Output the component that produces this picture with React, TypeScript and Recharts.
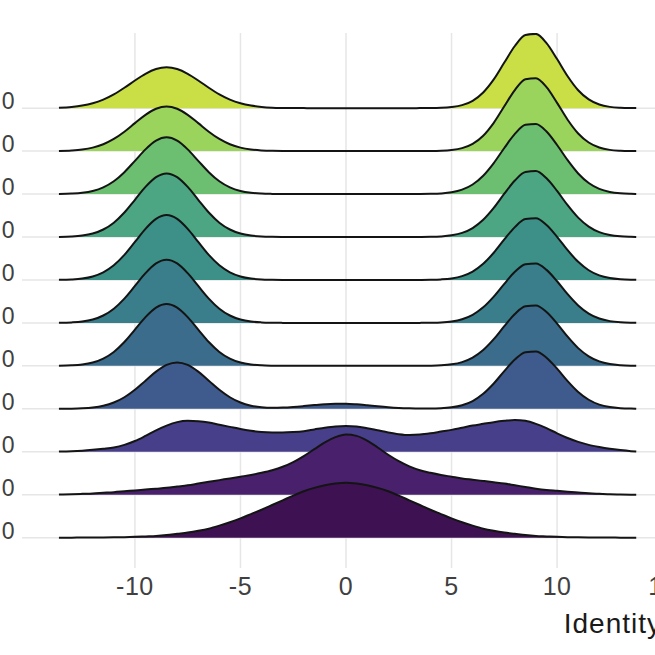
import { ComposedChart, Area, XAxis, YAxis, CartesianGrid, Label } from 'recharts';

const xs = [
  -13.6, -13, -12.5, -12, -11.5, -11, -10.5, -10, -9.5, -9,
  -8.5, -8, -7.5, -7, -6.5, -6, -5.5, -5, -4.5, -4,
  -3.5, -3, -2.5, -2, -1.5, -1, -0.5, 0, 0.5, 1,
  1.5, 2, 2.5, 3, 3.5, 4, 4.5, 5, 5.5, 6,
  6.5, 7, 7.5, 8, 8.5, 9, 9.5, 10, 10.5, 11,
  11.5, 12, 12.5, 13, 13.5, 13.75,
];

const xTicks = [-10, -5, 0, 5, 10, 15];
const rowTicks = [0, 1, 2, 3, 4, 5, 6, 7, 8, 9, 10];
const rowLabels = ['0', '100', '200', '300', '400', '500', '600', '700', '800', '900', '1000'];

// heights above each row's baseline (1 = one row spacing)
const density0 = [
  0, 0.001, 0.002, 0.003, 0.005, 0.008, 0.012, 0.02, 0.03, 0.04,
  0.06, 0.09, 0.12, 0.16, 0.21, 0.28, 0.36, 0.45, 0.55, 0.65,
  0.76, 0.87, 0.98, 1.08, 1.16, 1.22, 1.26, 1.28, 1.26, 1.22,
  1.16, 1.08, 0.98, 0.87, 0.76, 0.65, 0.55, 0.45, 0.36, 0.28,
  0.21, 0.16, 0.12, 0.09, 0.06, 0.04, 0.03, 0.02, 0.012, 0.008,
  0.005, 0.003, 0.002, 0.001, 0, 0,
];
const density1 = [
  0.003, 0.01, 0.02, 0.03, 0.045, 0.06, 0.08, 0.1, 0.12, 0.14,
  0.16, 0.19, 0.22, 0.26, 0.3, 0.34, 0.38, 0.42, 0.46, 0.51,
  0.57, 0.65, 0.76, 0.9, 1.06, 1.22, 1.34, 1.4, 1.37, 1.26,
  1.1, 0.93, 0.78, 0.66, 0.57, 0.51, 0.46, 0.42, 0.38, 0.35,
  0.32, 0.29, 0.26, 0.22, 0.18, 0.14, 0.11, 0.09, 0.07, 0.05,
  0.035, 0.02, 0.012, 0.006, 0.002, 0.001,
];
const density2 = [
  0.004, 0.012, 0.025, 0.045, 0.07, 0.1, 0.16, 0.25, 0.37, 0.5,
  0.61, 0.69, 0.72, 0.71, 0.68, 0.63, 0.58, 0.53, 0.49, 0.46,
  0.45, 0.45, 0.46, 0.48, 0.52, 0.56, 0.59, 0.6, 0.59, 0.55,
  0.5, 0.45, 0.41, 0.39, 0.4, 0.43, 0.47, 0.51, 0.56, 0.61,
  0.65, 0.69, 0.72, 0.74, 0.72, 0.65, 0.55, 0.43, 0.32, 0.23,
  0.16, 0.11, 0.07, 0.04, 0.015, 0.005,
];
const density3 = [
  0.001, 0.004, 0.012, 0.031, 0.071, 0.146, 0.269, 0.444, 0.656, 0.865,
  1.022, 1.08, 1.022, 0.865, 0.656, 0.444, 0.269, 0.146, 0.073, 0.037,
  0.024, 0.028, 0.042, 0.063, 0.087, 0.108, 0.119, 0.118, 0.104, 0.082,
  0.058, 0.037, 0.021, 0.011, 0.006, 0.006, 0.012, 0.034, 0.084, 0.182,
  0.35, 0.59, 0.878, 1.146, 1.319, 1.337, 1.191, 0.936, 0.645, 0.393,
  0.211, 0.099, 0.041, 0.015, 0.005, 0.003,
];
const density4 = [
  0.003, 0.012, 0.032, 0.078, 0.17, 0.325, 0.556, 0.844, 1.135, 1.356,
  1.44, 1.356, 1.135, 0.844, 0.556, 0.325, 0.17, 0.078, 0.032, 0.012,
  0.004, 0.001, 0, 0, 0, 0, 0, 0, 0, 0,
  0, 0, 0, 0, 0.001, 0.004, 0.013, 0.036, 0.088, 0.192,
  0.368, 0.621, 0.923, 1.206, 1.387, 1.406, 1.252, 0.984, 0.679, 0.413,
  0.222, 0.104, 0.043, 0.016, 0.005, 0.003,
];
const density5 = [
  0.003, 0.012, 0.032, 0.079, 0.173, 0.332, 0.567, 0.861, 1.158, 1.385,
  1.47, 1.385, 1.158, 0.861, 0.567, 0.332, 0.173, 0.079, 0.032, 0.012,
  0.004, 0.001, 0, 0, 0, 0, 0, 0, 0, 0,
  0, 0, 0, 0, 0.001, 0.004, 0.012, 0.035, 0.087, 0.189,
  0.363, 0.612, 0.91, 1.189, 1.368, 1.386, 1.235, 0.97, 0.669, 0.407,
  0.218, 0.102, 0.042, 0.015, 0.005, 0.003,
];
const density6 = [
  0.003, 0.012, 0.033, 0.082, 0.178, 0.341, 0.583, 0.885, 1.19, 1.422,
  1.51, 1.422, 1.19, 0.885, 0.583, 0.341, 0.178, 0.082, 0.033, 0.012,
  0.005, 0.001, 0, 0, 0, 0, 0, 0, 0, 0,
  0, 0, 0, 0, 0.001, 0.004, 0.013, 0.036, 0.09, 0.196,
  0.376, 0.634, 0.943, 1.231, 1.417, 1.436, 1.279, 1.005, 0.693, 0.422,
  0.226, 0.106, 0.044, 0.016, 0.005, 0.003,
];
const density7 = [
  0.003, 0.012, 0.033, 0.08, 0.175, 0.334, 0.571, 0.867, 1.166, 1.394,
  1.48, 1.394, 1.166, 0.867, 0.571, 0.334, 0.175, 0.08, 0.033, 0.012,
  0.004, 0.001, 0, 0, 0, 0, 0, 0, 0, 0,
  0, 0, 0, 0, 0.001, 0.004, 0.014, 0.039, 0.096, 0.209,
  0.401, 0.677, 1.008, 1.316, 1.514, 1.535, 1.367, 1.074, 0.741, 0.451,
  0.242, 0.113, 0.047, 0.017, 0.006, 0.003,
];
const density8 = [
  0.003, 0.011, 0.029, 0.071, 0.156, 0.298, 0.51, 0.774, 1.04, 1.243,
  1.32, 1.243, 1.04, 0.774, 0.51, 0.298, 0.156, 0.071, 0.029, 0.011,
  0.004, 0.001, 0, 0, 0, 0, 0, 0, 0, 0,
  0, 0, 0, 0, 0.001, 0.005, 0.015, 0.041, 0.102, 0.223,
  0.427, 0.721, 1.073, 1.401, 1.612, 1.634, 1.455, 1.143, 0.789, 0.48,
  0.257, 0.12, 0.05, 0.018, 0.006, 0.003,
];
const density9 = [
  0.005, 0.016, 0.037, 0.081, 0.16, 0.283, 0.452, 0.651, 0.845, 0.987,
  1.04, 0.987, 0.845, 0.651, 0.452, 0.283, 0.16, 0.081, 0.037, 0.016,
  0.006, 0.002, 0.001, 0, 0, 0, 0, 0, 0, 0,
  0, 0, 0, 0, 0.001, 0.002, 0.007, 0.024, 0.069, 0.169,
  0.359, 0.659, 1.044, 1.422, 1.675, 1.699, 1.488, 1.123, 0.731, 0.411,
  0.2, 0.083, 0.029, 0.009, 0.002, 0.001,
];
const density10 = [
  0.01, 0.029, 0.06, 0.114, 0.2, 0.322, 0.475, 0.644, 0.799, 0.91,
  0.95, 0.91, 0.799, 0.644, 0.475, 0.322, 0.2, 0.114, 0.06, 0.029,
  0.012, 0.005, 0.002, 0.001, 0, 0, 0, 0, 0, 0,
  0, 0, 0, 0, 0.001, 0.002, 0.007, 0.025, 0.07, 0.172,
  0.366, 0.67, 1.062, 1.447, 1.705, 1.729, 1.514, 1.143, 0.744, 0.418,
  0.203, 0.084, 0.03, 0.009, 0.002, 0.001,
];

const densities = [
  density0, density1, density2, density3, density4, density5,
  density6, density7, density8, density9, density10,
];

// viridis-like fills, bottom row first
const fills = [
  '#3e1252', '#48206c', '#473f89', '#3f5a8c', '#3b6c8c', '#3a7e8b',
  '#3d9088', '#4ca683', '#6cbf70', '#9ad45c', '#c9df45',
];

// each row sits on its own baseline (row index)
const data = xs.map((x, i) => {
  const point: Record<string, number> = { x };
  densities.forEach((d, r) => {
    point[`r${r}`] = r + d[i];
  });
  return point;
});

// draw top rows first so lower ridges cover them
const drawOrder = rowTicks.slice().reverse();

const YTick = ({ x, y, payload }: any) => (
  <text x={x} y={y + 1} textAnchor="end" fontSize={23} letterSpacing={1.5} fill="#404040">
    {rowLabels[payload.value]}
  </text>
);

export default function App() {
  return (
    <div
      style={{
        position: 'fixed',
        left: 0,
        top: 0,
        width: 655,
        height: 655,
        overflow: 'hidden',
        background: '#ffffff',
        fontFamily: '"Liberation Sans", Arial, sans-serif',
      }}
    >
      <div style={{ position: 'absolute', left: -38, top: 0 }}>
        <ComposedChart
          width={708}
          height={655}
          data={data}
          margin={{ top: 33, right: 0, bottom: 0, left: 0 }}
        >
          <CartesianGrid
            stroke="#e6e6e6"
            strokeWidth={1.5}
            horizontalValues={rowTicks}
            verticalValues={xTicks}
          />
          <XAxis
            type="number"
            dataKey="x"
            domain={[-15.35, 15.35]}
            ticks={xTicks}
            interval={0}
            allowDataOverflow
            axisLine={false}
            tickLine={false}
            tickSize={0}
            tickMargin={9}
            height={87}
            tick={{ fontSize: 25, fill: '#404040', letterSpacing: 0.5 }}
          >
            <Label
              content={({ viewBox }: any) => (
                <text
                  x={viewBox.x + viewBox.width - 8}
                  y={viewBox.y + 65}
                  textAnchor="end"
                  fontSize={28}
                  letterSpacing={1}
                  fill="#1a1a1a"
                >
                  Identity
                </text>
              )}
            />
          </XAxis>
          <YAxis
            type="number"
            domain={[-0.706, 11.75]}
            ticks={rowTicks}
            interval={0}
            allowDataOverflow
            axisLine={false}
            tickLine={false}
            tickSize={0}
            tickMargin={6}
            width={60}
            tick={<YTick />}
          />
          {drawOrder.map((r) => (
            <Area
              key={r}
              dataKey={`r${r}`}
              baseValue={r}
              type="monotone"
              fill={fills[r]}
              fillOpacity={1}
              stroke="#141414"
              strokeWidth={2}
              dot={false}
              activeDot={false}
              isAnimationActive={false}
            />
          ))}
        </ComposedChart>
      </div>
    </div>
  );
}
